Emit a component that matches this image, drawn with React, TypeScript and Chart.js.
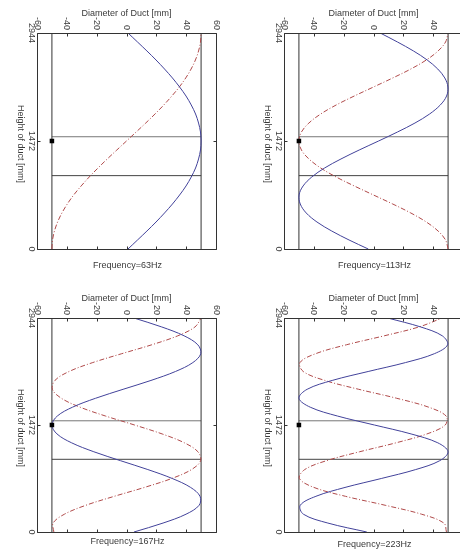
import React, { useEffect, useRef } from "react";
import { Chart, registerables } from "chart.js";

Chart.register(...registerables);

const heights = [0, 123, 245, 368, 491, 613, 736, 859, 981, 1104, 1227, 1349, 1472, 1595, 1717, 1840, 1963, 2085, 2208, 2331, 2453, 2576, 2699, 2821, 2944];

// 63 Hz
const blue63 = [1, 7.4, 13.7, 19.8, 25.5, 30.8, 35.6, 39.9, 43.4, 46.3, 48.3, 49.6, 50, 49.6, 48.3, 46.3, 43.4, 39.9, 35.6, 30.8, 25.5, 19.8, 13.7, 7.4, 1];
const red63 = [-50, -49.6, -48.3, -46.2, -43.3, -39.7, -35.4, -30.4, -25, -19.1, -12.9, -6.5, 0, 6.5, 12.9, 19.1, 25, 30.4, 35.4, 39.7, 43.3, 46.2, 48.3, 49.6, 50];
// 113 Hz
const blue113 = [-3.5, -16.4, -28.0, -37.9, -45.1, -49.1, -49.9, -47.2, -41.4, -32.8, -21.8, -9.6, 3.4, 16.1, 27.8, 37.6, 44.8, 49.0, 49.9, 47.8, 43.1, 36.0, 26.8, 16.1, 4.5];
const red113 = [50, 48.3, 43.3, 35.4, 25, 12.9, 0, -12.9, -25, -35.4, -43.3, -48.3, -50, -48.3, -43.3, -35.4, -25, -12.9, 0, 12.9, 25, 35.4, 43.3, 48.3, 50];
// 167 Hz
const blue167 = [5.0, 24.5, 39.9, 48.7, 49.3, 43.0, 30.7, 14.3, -4.0, -21.9, -36.8, -46.6, -50, -46.4, -36.2, -20.7, -2.3, 16.4, 32.8, 44.5, 49.8, 47.8, 38.6, 23.6, 5.0];
const red167 = [-48.7, -49.2, -41.6, -27.2, -8.2, 12.0, 30.3, 43.6, 49.7, 47.9, 38.8, 23.9, 5.4, -14.0, -31.1, -43.7, -49.7, -48.0, -38.5, -22.6, -3.2, 17.0, 34.4, 45.9, 50];
// 223 Hz
const blue223 = [-4.5, -30.6, -47.0, -49.1, -38.6, -19.1, 5.2, 28.3, 44.4, 50.0, 43.1, 25.2, 0.6, -24.1, -42.4, -50.0, -44.5, -27.7, -3.6, 21.5, 40.8, 49.7, 46.1, 31.6, 9.5];
const red223 = [48.9, 47.2, 32.2, 7.8, -18.8, -39.9, -49.7, -46.1, -31.5, -9.3, 15.1, 35.8, 48.1, 48.7, 37.0, 15.5, -9.9, -32.6, -47.1, -49.3, -38.8, -18.1, 7.2, 30.5, 46.0];

const frequencyLabels = ["Frequency=63Hz", "Frequency=113Hz", "Frequency=167Hz", "Frequency=223Hz"];
const blueSeries = [blue63, blue113, blue167, blue223];
const redSeries = [red63, red113, red167, red223];

const diameterTicks = [-60, -40, -20, 0, 20, 40, 60];
const heightTicks = [0, 1472, 2944];
const wallDiameters = [-50, 50];
const sectionHeights = [1530, 1000];
const markerDiameter = -50;
const markerHeight = 1472;

// Layout of the four panels (pixels)
const panelLeft = [0, 247, 0, 247];
const panelTop = [0, 0, 275, 275];
const padTop = [33, 33, 43, 43];
const padBottom = [26, 26, 18, 18];
const freqGap = [17, 17, 10, 12.5];

const CANVAS_W = 250;
const CANVAS_H = 275;
const FONT = '9px "Liberation Sans", Arial, sans-serif';
const TEXT = "#3a3a3a";
const BLUE = "#42429a";
const RED = "#b04a4a";

function makeFramePlugin(idx: number) {
  return {
    id: "frame" + idx,
    afterDatasetsDraw(chart: any) {
      const { ctx, chartArea: a, scales } = chart;
      const xs = scales.x;
      const ys = scales.y;
      ctx.save();
      ctx.strokeStyle = "#333";
      ctx.lineWidth = 1;
      const L = Math.round(a.left) + 0.5;
      const R = Math.round(a.right) + 0.5;
      const T = Math.round(a.top) + 0.5;
      const B = Math.round(a.bottom) + 0.5;
      ctx.beginPath();
      ctx.rect(L, T, R - L, B - T);
      ctx.stroke();
      ctx.beginPath();
      for (const v of diameterTicks) {
        const px = Math.round(xs.getPixelForValue(v)) + 0.5;
        ctx.moveTo(px, T);
        ctx.lineTo(px, T + 3);
        ctx.moveTo(px, B);
        ctx.lineTo(px, B - 3);
      }
      for (const v of heightTicks) {
        const py = Math.round(ys.getPixelForValue(v)) + 0.5;
        ctx.moveTo(L, py);
        ctx.lineTo(L + 3, py);
        ctx.moveTo(R, py);
        ctx.lineTo(R - 3, py);
      }
      ctx.stroke();

      ctx.fillStyle = TEXT;
      ctx.font = FONT;
      for (const v of diameterTicks) {
        const px = xs.getPixelForValue(v);
        ctx.save();
        ctx.translate(px, a.top - 3);
        ctx.rotate(Math.PI / 2);
        ctx.textAlign = "right";
        ctx.textBaseline = "middle";
        ctx.fillText(String(v), 0, 0);
        ctx.restore();
      }
      for (const v of heightTicks) {
        const py = ys.getPixelForValue(v);
        ctx.save();
        ctx.translate(a.left - 6, py);
        ctx.rotate(Math.PI / 2);
        ctx.textAlign = "center";
        ctx.textBaseline = "middle";
        ctx.fillText(String(v), 0, 0);
        ctx.restore();
      }
      // axis titles
      ctx.save();
      ctx.translate(20, (a.top + a.bottom) / 2 + 3);
      ctx.rotate(Math.PI / 2);
      ctx.textAlign = "center";
      ctx.textBaseline = "middle";
      ctx.fillText("Height of duct [mm]", 0, 0);
      ctx.restore();

      ctx.textAlign = "center";
      ctx.textBaseline = "middle";
      const cx = xs.getPixelForValue(0);
      ctx.fillText("Diameter of Duct [mm]", cx, a.top - 19.5);
      ctx.fillText(frequencyLabels[idx], cx + 1, a.bottom + freqGap[idx]);
      ctx.restore();
    },
  };
}

function Panel({ idx }: { idx: number }) {
  const ref = useRef<HTMLCanvasElement | null>(null);
  useEffect(() => {
    const canvas = ref.current;
    if (!canvas) return;
    const blue = blueSeries[idx].map((d, i) => ({ x: d, y: heights[i] }));
    const red = redSeries[idx].map((d, i) => ({ x: d, y: heights[i] }));
    const datasets: any[] = [
      {
        data: [{ x: markerDiameter, y: markerHeight }],
        pointStyle: "rect",
        pointRadius: 3.2,
        backgroundColor: "#000",
        borderColor: "#000",
        borderWidth: 0,
        showLine: false,
      },
      {
        data: blue,
        showLine: true,
        borderColor: BLUE,
        borderWidth: 1,
        pointRadius: 0,
        tension: 0.35,
      },
      {
        data: red,
        showLine: true,
        borderColor: RED,
        borderWidth: 1,
        borderDash: [5, 2, 1, 2],
        pointRadius: 0,
        tension: 0.35,
      },
      ...wallDiameters.map((d) => ({
        data: [
          { x: d, y: heightTicks[0] },
          { x: d, y: heightTicks[heightTicks.length - 1] },
        ],
        showLine: true,
        borderColor: "#333",
        borderWidth: 1,
        pointRadius: 0,
      })),
      ...sectionHeights.map((h, k) => ({
        data: [
          { x: wallDiameters[0], y: h },
          { x: wallDiameters[1], y: h },
        ],
        showLine: true,
        borderColor: k === 0 ? "#777" : "#444",
        borderWidth: 1,
        pointRadius: 0,
      })),
    ];
    const chart = new Chart(canvas, {
      type: "scatter",
      data: { datasets },
      options: {
        responsive: false,
        animation: false,
        devicePixelRatio: 1,
        events: [],
        layout: {
          padding: { left: 37, right: CANVAS_W - 216, top: padTop[idx], bottom: padBottom[idx] },
        },
        scales: {
          x: { type: "linear", min: -60, max: 60, display: false },
          y: { type: "linear", min: 0, max: 2944, display: false },
        },
        plugins: { legend: { display: false }, tooltip: { enabled: false } },
      },
      plugins: [makeFramePlugin(idx)],
    } as any);
    return () => chart.destroy();
  }, [idx]);
  return (
    <canvas
      ref={ref}
      width={CANVAS_W}
      height={CANVAS_H}
      style={{ position: "absolute", left: panelLeft[idx], top: panelTop[idx], width: CANVAS_W, height: CANVAS_H }}
    />
  );
}

export default function App() {
  return (
    <div
      style={{
        position: "fixed",
        left: 0,
        top: 0,
        width: 460,
        height: 550,
        overflow: "hidden",
        background: "#fff",
      }}
    >
      {[0, 1, 2, 3].map((i) => (
        <Panel key={i} idx={i} />
      ))}
    </div>
  );
}
